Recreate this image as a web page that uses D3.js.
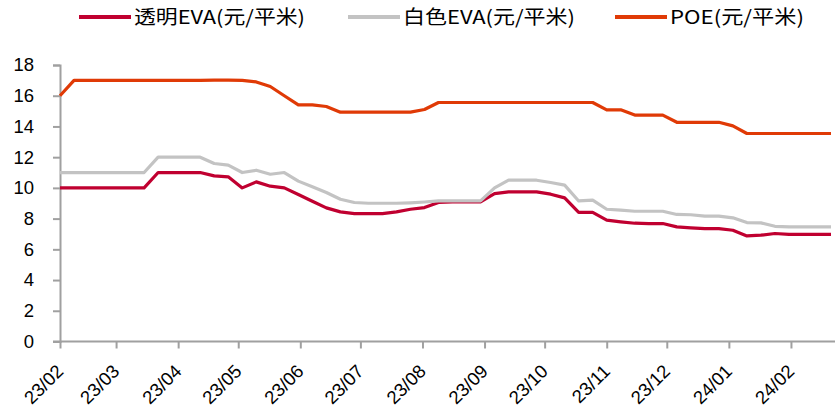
<!DOCTYPE html>
<html><head><meta charset="utf-8">
<script src="https://cdn.jsdelivr.net/npm/d3@7"></script>
<style>body{margin:0;background:#fff}svg{display:block}</style>
</head><body>
<svg id="c" width="835" height="410"></svg>
<script>
const startDate = "2023-02-01";
const seriesNames = ["透明EVA(元/平米)", "白色EVA(元/平米)", "POE(元/平米)"];
const seriesColors = ["#C00030", "#C3C3C3", "#E03A06"];
const yTicks = [0,2,4,6,8,10,12,14,16,18];
const xTickLabels = ["23/02","23/03","23/04","23/05","23/06","23/07","23/08","23/09","23/10","23/11","23/12","24/01","24/02"];

const clearEVA = [10,10,10,10,10,10,10,11,11,11,11,10.78,10.72,10.0,10.39,10.11,10.0,9.57,9.13,8.7,8.44,8.33,8.33,8.33,8.44,8.61,8.72,9.05,9.09,9.09,9.09,9.63,9.74,9.74,9.74,9.59,9.35,8.4,8.4,7.9,7.79,7.7,7.68,7.68,7.46,7.4,7.35,7.35,7.24,6.87,6.92,7.03,6.98,6.98,6.98,6.98];
const whiteEVA = [11,11,11,11,11,11,11,12,12,12,12,11.59,11.48,11.0,11.15,10.89,11.0,10.44,10.07,9.7,9.26,9.05,9.0,9.0,9.0,9.03,9.08,9.15,9.15,9.15,9.15,10.0,10.5,10.5,10.5,10.35,10.18,9.15,9.2,8.61,8.55,8.48,8.48,8.48,8.27,8.25,8.16,8.16,8.05,7.74,7.72,7.5,7.46,7.46,7.46,7.46];
const poe = [16,17,17,17,17,17,17,17,17,17,17,17.02,17.02,17.0,16.9,16.6,16.0,15.4,15.4,15.3,14.93,14.93,14.93,14.93,14.93,14.93,15.1,15.56,15.56,15.56,15.56,15.56,15.56,15.56,15.56,15.56,15.56,15.56,15.56,15.08,15.08,14.74,14.74,14.74,14.27,14.27,14.27,14.27,14.04,13.54,13.54,13.54,13.54,13.54,13.54,13.54];

const parse = d3.timeParse("%Y-%m-%d");
const t0 = parse(startDate);
const dates = clearEVA.map((_, i) => d3.timeDay.offset(t0, i * 7));
const allSeries = [clearEVA, whiteEVA, poe];

const svg = d3.select("#c");
const x = d3.scaleTime().domain([dates[0], dates[dates.length - 1]]).range([60, 831]);
const y = d3.scaleLinear().domain([0, 18]).range([341.5, 65]);

const font = "'Liberation Sans', Arial, sans-serif";
const axisColor = "#a0a0a0";

// Y axis
const yAxis = svg.append("g").attr("transform", "translate(60,0)")
  .call(d3.axisLeft(y).tickValues(yTicks).tickSize(7).tickPadding(19).tickFormat(d3.format("d")));
yAxis.select(".domain").attr("stroke", axisColor).attr("stroke-width", 2);
yAxis.selectAll(".tick line").attr("stroke", axisColor).attr("stroke-width", 2);
yAxis.selectAll("text").attr("font-family", font).attr("font-size", 18.5).attr("fill", "#000");

// X axis
const monthTicks = xTickLabels.map(s => { const [yy, mm] = s.split("/"); return new Date(2000 + +yy, +mm - 1, 1); });
const xAxis = svg.append("g").attr("transform", `translate(0,${y(0)})`)
  .call(d3.axisBottom(x).tickValues(monthTicks).tickSize(7).tickFormat((d, i) => xTickLabels[i]));
xAxis.select(".domain").remove();
xAxis.append("line").attr("x1", 53).attr("x2", 835).attr("y1", 0).attr("y2", 0)
  .attr("stroke", axisColor).attr("stroke-width", 2);
xAxis.selectAll(".tick line").attr("stroke", axisColor).attr("stroke-width", 2);
xAxis.selectAll(".tick text")
  .attr("font-family", font).attr("font-size", 18.5).attr("fill", "#000")
  .attr("text-anchor", "end").attr("dy", null).attr("y", 0)
  .attr("transform", "translate(4,31) rotate(-45)");

// Lines
const line = d3.line().x((d, i) => x(dates[i])).y(d => y(d));
allSeries.forEach((s, k) => {
  svg.append("path").datum(s).attr("d", line)
    .attr("fill", "none").attr("stroke", seriesColors[k]).attr("stroke-width", 3.2)
    .attr("stroke-linejoin", "round");
});

// Legend
const legendX = [79, 348, 615];
const legendTextW = [171, 172, 134];
seriesNames.forEach((n, k) => {
  const g = svg.append("g").attr("transform", `translate(${legendX[k]},17)`);
  g.append("line").attr("x1", 0).attr("x2", 52).attr("y1", 0).attr("y2", 0)
    .attr("stroke", seriesColors[k]).attr("stroke-width", 4);
  g.append("text").attr("x", 55).attr("y", 7).text(n)
    .attr("font-family", "'Noto Sans CJK SC', 'Liberation Sans', sans-serif")
    .attr("font-size", 19).attr("fill", "#000")
    .attr("textLength", legendTextW[k]).attr("lengthAdjust", "spacingAndGlyphs");
});
</script>
</body></html>
